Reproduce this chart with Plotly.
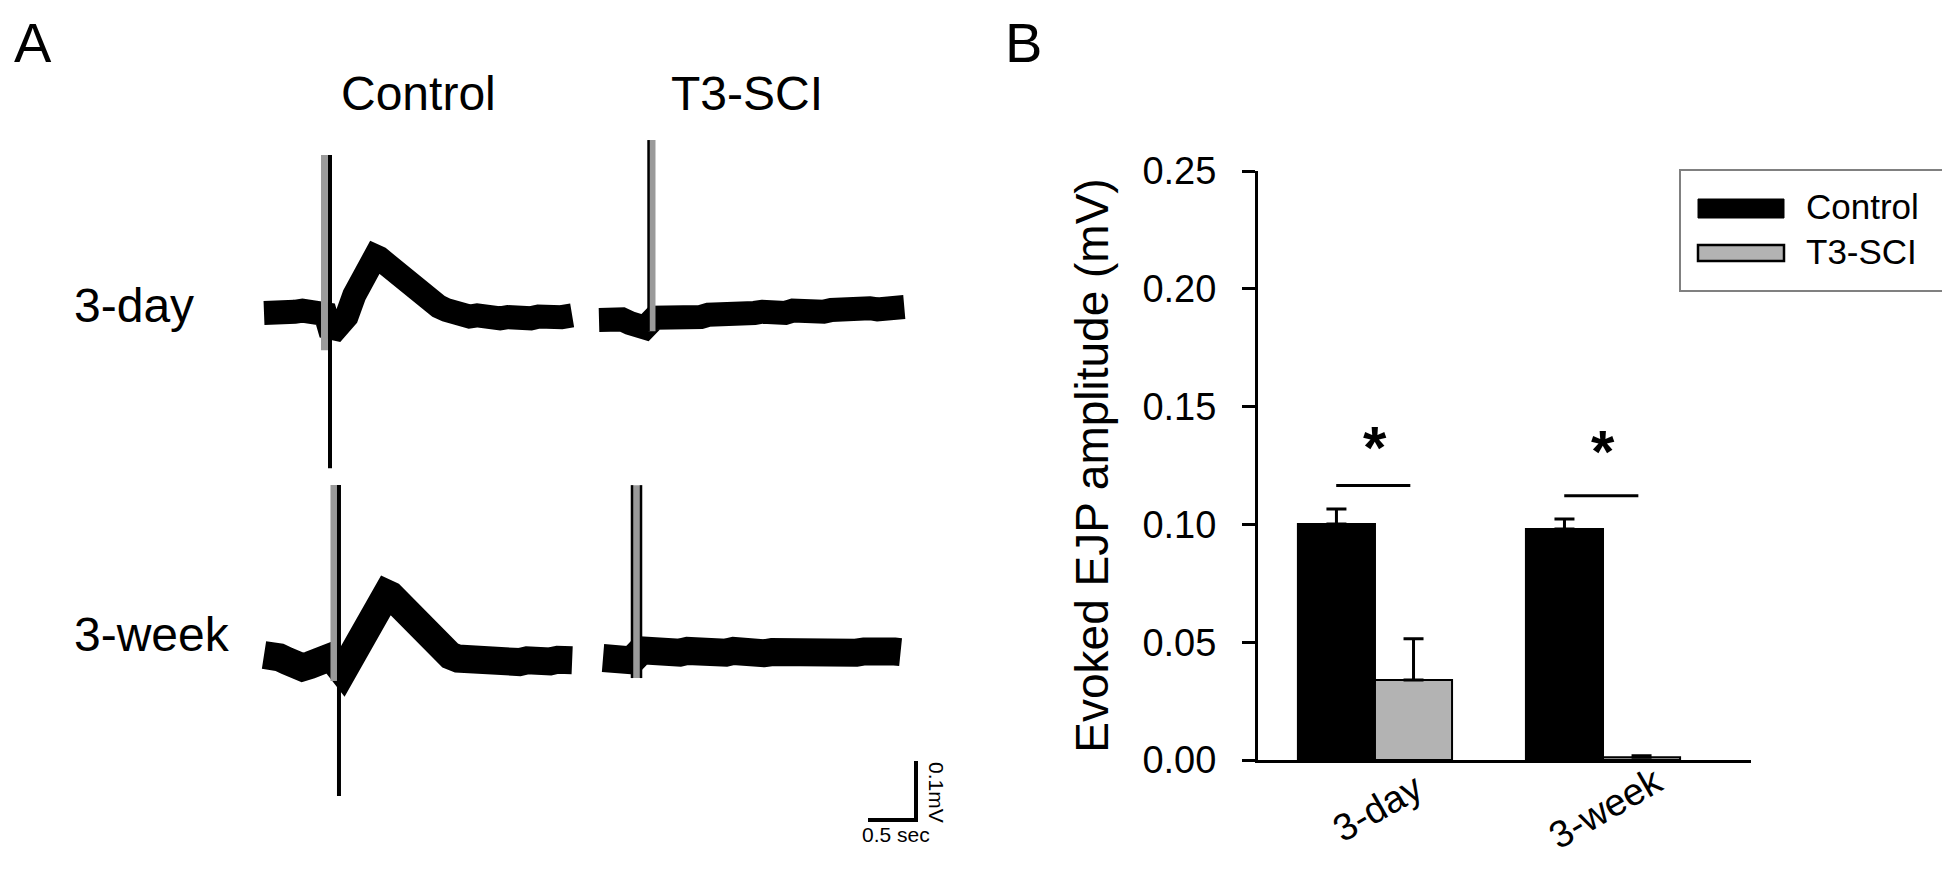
import plotly.graph_objects as go

W, H = 1950, 869
FONT = "Liberation Sans, Arial, sans-serif"

# ---------------- Panel B data ----------------
groups = ["3-day", "3-week"]
series_names = ["Control", "T3-SCI"]
control_mean = [0.1002, 0.0980]
control_sem = [0.0063, 0.0043]
sci_mean = [0.0340, 0.0012]
sci_sem = [0.0175, 0.0006]
sig_level = [0.1165, 0.1122]
star_level = [0.1325, 0.1308]
y_ticks = [0.00, 0.05, 0.10, 0.15, 0.20, 0.25]
y_tick_text = ["0.00", "0.05", "0.10", "0.15", "0.20", "0.25"]
y_title = "Evoked EJP amplitude (mV)"

# ---------------- Panel A data (time s, voltage mV relative to baseline) ----------------
row_labels = ["3-day", "3-week"]
col_labels = ["Control", "T3-SCI"]

ctrl3d_t = [0.00, 0.08, 0.16, 0.24, 0.32, 0.40, 0.48, 0.56, 0.64,
            0.70, 0.78, 0.86, 0.94, 1.02, 1.08, 1.12, 1.16, 1.20, 1.26, 1.34, 1.42, 1.50, 1.58, 1.66,
            1.74, 1.82, 1.90, 1.98,
            2.06, 2.14, 2.22, 2.30, 2.38, 2.46, 2.54, 2.62, 2.70, 2.78, 2.86, 2.94, 3.02, 3.10, 3.21]
ctrl3d_v = [0.000, 0.003, 0.000, 0.004, 0.002, 0.004, 0.000, 0.002, -0.002,
            -0.036, -0.026, -0.006, 0.030, 0.064, 0.084, 0.093, 0.096, 0.093, 0.084, 0.072, 0.060, 0.048,
            0.037, 0.027, 0.018, 0.011, 0.005, 0.000,
            -0.003, -0.006, -0.004, -0.008, -0.006, -0.009, -0.007, -0.010, -0.007, -0.009, -0.006,
            -0.008, -0.005, -0.007, -0.004]

ctrl3w_t = [0.00, 0.08, 0.16, 0.24, 0.32, 0.40, 0.48, 0.56, 0.64, 0.70,
            0.82, 0.90, 0.98, 1.06, 1.14, 1.20, 1.24, 1.28, 1.32, 1.38, 1.46, 1.54, 1.62, 1.70, 1.78,
            1.86, 1.94, 2.02,
            2.10, 2.18, 2.26, 2.34, 2.42, 2.50, 2.58, 2.66, 2.74, 2.82, 2.90, 2.98, 3.06, 3.14, 3.21]
ctrl3w_v = [0.000, 0.003, -0.004, -0.010, -0.017, -0.021, -0.017, -0.009, -0.005, -0.003,
            -0.028, -0.006, 0.026, 0.056, 0.082, 0.096, 0.102, 0.104, 0.101, 0.090, 0.074, 0.057, 0.042,
            0.028, 0.016, 0.006, -0.001, -0.006,
            -0.008, -0.011, -0.009, -0.012, -0.010, -0.013, -0.010, -0.012, -0.009, -0.013, -0.010,
            -0.011, -0.008, -0.011, -0.009]

sci3d_t = [0.00, 0.08, 0.16, 0.24, 0.32, 0.40, 0.48,
           0.58, 0.66, 0.74, 0.82, 0.90, 0.98, 1.06, 1.14, 1.22, 1.30, 1.38, 1.46, 1.54, 1.62, 1.70,
           1.78, 1.86, 1.94, 2.02, 2.10, 2.18, 2.26, 2.34, 2.42, 2.50, 2.58, 2.66, 2.74, 2.82, 2.90,
           2.98, 3.06, 3.18]
sci3d_v = [0.000, 0.002, -0.002, 0.001, -0.005, -0.009, -0.013,
           0.004, 0.003, 0.006, 0.005, 0.008, 0.006, 0.005, 0.009, 0.008, 0.010, 0.009, 0.012, 0.010,
           0.012, 0.014, 0.011, 0.014, 0.012, 0.016, 0.014, 0.016, 0.018, 0.014, 0.017, 0.019, 0.016,
           0.018, 0.016, 0.020, 0.018, 0.021, 0.020, 0.022]

sci3w_t = [0.00, 0.08, 0.16, 0.24, 0.30,
           0.40, 0.48, 0.56, 0.64, 0.72, 0.80, 0.88, 0.96, 1.04, 1.12, 1.20, 1.28, 1.36, 1.44, 1.52,
           1.60, 1.68, 1.76, 1.84, 1.92, 2.00, 2.08, 2.16, 2.24, 2.32, 2.40, 2.48, 2.56, 2.64, 2.72,
           2.80, 2.88, 2.96, 3.04, 3.10]
sci3w_v = [0.000, -0.002, -0.005, -0.007, -0.004,
           0.013, 0.010, 0.011, 0.008, 0.011, 0.009, 0.012, 0.009, 0.010, 0.008, 0.011, 0.009, 0.012,
           0.008, 0.010, 0.011, 0.008, 0.010, 0.009, 0.012, 0.009, 0.007, 0.010, 0.009, 0.011, 0.008,
           0.010, 0.007, 0.009, 0.011, 0.008, 0.010, 0.009, 0.011, 0.010]

# stimulus artifacts: time (s), top (mV), bottom (mV) relative to each trace
ctrl3d_art = {"gray": (0.630, 0.268, -0.063), "black": (0.6875, 0.268, -0.263)}
ctrl3w_art = {"gray": (0.729, 0.288, -0.044), "black": (0.781, 0.288, -0.239)}
sci3d_art = {"gray": (0.552, 0.305, -0.019), "black": (0.516, 0.305, -0.019)}
sci3w_art = {"gray": (0.349, 0.293, -0.034), "black": (0.302, 0.293, -0.034), "black2": (0.396, 0.293, -0.034)}

scale_time = 0.5   # s
scale_volt = 0.1   # mV
scale_labels = ["0.5 sec", "0.1mV"]

# ---------------- layout helpers (positions) ----------------
PX_PER_S = 96.0
PX_PER_MV = 590.0


def px(x):
    return x / W


def py(y):
    return 1 - y / H


def t_abs(xpix):
    return xpix / PX_PER_S


def v_abs(ypix):
    return (H - ypix) / PX_PER_MV


fig = go.Figure()

# ---- Panel A traces ----
traces_A = [
    (ctrl3d_t, ctrl3d_v, ctrl3d_art, 256, 305, 24, 4),
    (sci3d_t, sci3d_v, sci3d_art, 591, 312, 24, 2.5),
    (ctrl3w_t, ctrl3w_v, ctrl3w_art, 256, 647, 28, 4),
    (sci3w_t, sci3w_v, sci3w_art, 595, 650, 28, 2.5),
]
for tt, vv, art, x0p, y0p, lw, blw in traces_A:
    assert len(tt) == len(vv)
    T0, V0 = t_abs(x0p), v_abs(y0p)
    fig.add_trace(go.Scatter(
        x=[T0 + t for t in tt], y=[V0 + v for v in vv], mode="lines",
        line=dict(color="black", width=lw), xaxis="x2", yaxis="y2",
        hoverinfo="skip", showlegend=False))
    for key, (ta, top, bot) in art.items():
        color = "#9a9a9a" if key == "gray" else "black"
        width = 7 if key == "gray" else blw
        fig.add_trace(go.Scatter(
            x=[T0 + ta, T0 + ta], y=[V0 + top, V0 + bot], mode="lines",
            line=dict(color=color, width=width), xaxis="x2", yaxis="y2",
            hoverinfo="skip", showlegend=False))

# scale bar
SB_T, SB_V = t_abs(908), v_abs(812)
fig.add_trace(go.Scatter(
    x=[SB_T - scale_time, SB_T, SB_T], y=[SB_V, SB_V, SB_V + scale_volt], mode="lines",
    line=dict(color="black", width=4), xaxis="x2", yaxis="y2",
    hoverinfo="skip", showlegend=False))

# ---- Panel B bars ----
BAR_W = 0.338
fig.add_trace(go.Bar(
    x=[0, 1], y=control_mean, width=BAR_W, offset=-BAR_W, name=series_names[0],
    marker=dict(color="black", line=dict(color="black", width=2)),
    error_y=dict(type="data", array=control_sem, arrayminus=[0, 0], symmetric=False,
                 color="black", thickness=3, width=10),
    showlegend=False))
fig.add_trace(go.Bar(
    x=[0, 1], y=sci_mean, width=BAR_W, offset=0, name=series_names[1],
    marker=dict(color="#b3b3b3", line=dict(color="black", width=2)),
    error_y=dict(type="data", array=sci_sem, arrayminus=[0, 0], symmetric=False,
                 color="black", thickness=3, width=10),
    showlegend=False))

shapes = []
annotations = []
for i, g in enumerate(groups):
    shapes.append(dict(type="line", xref="x", yref="y", x0=i - 0.17, x1=i + 0.155,
                       y0=sig_level[i], y1=sig_level[i], line=dict(color="black", width=3)))
    annotations.append(dict(x=i, y=star_level[i], xref="x", yref="y", text="<b>*</b>",
                            showarrow=False, font=dict(family=FONT, size=60, color="black"),
                            xanchor="center", yanchor="middle"))
    annotations.append(dict(x=i + 0.01, y=py(800), xref="x", yref="paper", text=g,
                            showarrow=False, textangle=-30,
                            font=dict(family=FONT, size=38, color="black"),
                            xanchor="center", yanchor="middle"))

# custom legend
shapes.append(dict(type="rect", xref="paper", yref="paper", x0=px(1672), x1=px(1945),
                   y0=py(283), y1=py(162), line=dict(color="#808080", width=2), fillcolor="white"))
shapes.append(dict(type="rect", xref="paper", yref="paper", x0=px(1690), x1=px(1776),
                   y0=py(210), y1=py(191), line=dict(color="black", width=1), fillcolor="black"))
shapes.append(dict(type="rect", xref="paper", yref="paper", x0=px(1690), x1=px(1776),
                   y0=py(253), y1=py(237), line=dict(color="black", width=2.5), fillcolor="#b3b3b3"))
for name, yc in zip(series_names, [198, 243]):
    annotations.append(dict(x=px(1796), y=py(yc), xref="paper", yref="paper", text=name,
                            showarrow=False, font=dict(family=FONT, size=35, color="black"),
                            xanchor="left", yanchor="middle"))

# Panel A labels
annotations.append(dict(x=px(4), y=py(34), xref="paper", yref="paper", text="A", showarrow=False,
                        font=dict(family=FONT, size=56, color="black"), xanchor="left", yanchor="middle"))
annotations.append(dict(x=px(995), y=py(34), xref="paper", yref="paper", text="B", showarrow=False,
                        font=dict(family=FONT, size=56, color="black"), xanchor="left", yanchor="middle"))
for lab, xc in zip(col_labels, [410, 739]):
    annotations.append(dict(x=px(xc), y=py(86), xref="paper", yref="paper", text=lab, showarrow=False,
                            font=dict(family=FONT, size=48, color="black"),
                            xanchor="center", yanchor="middle"))
for lab, yc in zip(row_labels, [297, 626]):
    annotations.append(dict(x=px(64), y=py(yc), xref="paper", yref="paper", text=lab, showarrow=False,
                            font=dict(family=FONT, size=48, color="black"),
                            xanchor="left", yanchor="middle"))
annotations.append(dict(x=px(888), y=py(826), xref="paper", yref="paper", text=scale_labels[0],
                        showarrow=False, font=dict(family=FONT, size=21, color="black"),
                        xanchor="center", yanchor="middle"))
annotations.append(dict(x=px(929), y=py(784), xref="paper", yref="paper", text=scale_labels[1],
                        showarrow=False, textangle=90, font=dict(family=FONT, size=21, color="black"),
                        xanchor="center", yanchor="middle"))

fig.update_layout(
    width=W, height=H,
    margin=dict(l=0, r=0, t=0, b=0),
    paper_bgcolor="white", plot_bgcolor="white",
    font=dict(family=FONT, color="black"),
    barmode="overlay",
    xaxis=dict(domain=[px(1250), px(1743)], range=[-0.513, 1.649], showline=True, linewidth=3,
               linecolor="black", showgrid=False, zeroline=False, ticks="", showticklabels=False,
               automargin=False, fixedrange=True),
    yaxis=dict(domain=[py(752), py(163)], range=[0, 0.25], showline=True, linewidth=3,
               linecolor="black", showgrid=False, zeroline=False, ticks="outside", ticklen=13,
               tickwidth=3, tickcolor="black", tickvals=y_ticks, ticktext=y_tick_text,
               tickfont=dict(family=FONT, size=38, color="black"), ticklabelstandoff=18,
               title=dict(text=y_title, font=dict(family=FONT, size=46, color="black"), standoff=20),
               automargin=False, fixedrange=True),
    xaxis2=dict(domain=[0, 0.5], range=[0, 0.5 * W / PX_PER_S], visible=False, anchor="y2",
                fixedrange=True),
    yaxis2=dict(domain=[0, 1], range=[0, H / PX_PER_MV], visible=False, anchor="x2", fixedrange=True),
    shapes=shapes,
    annotations=annotations,
)

fig.write_html("out.html")
